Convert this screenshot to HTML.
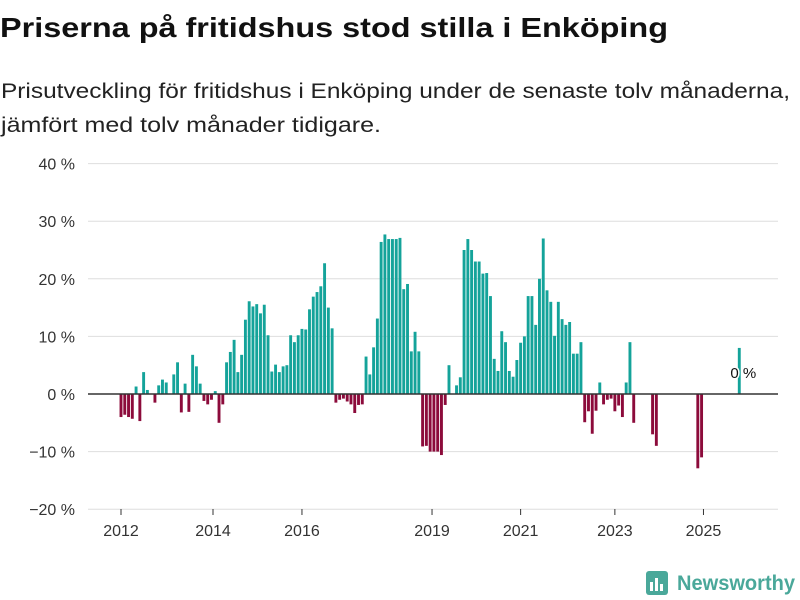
<!DOCTYPE html>
<html><head><meta charset="utf-8"><style>
html,body{margin:0;padding:0;background:#fff;}
svg{display:block;font-family:"Liberation Sans","DejaVu Sans",sans-serif;}
</style></head><body>
<svg id="chart" width="800" height="600" viewBox="0 0 800 600">
<text x="0" y="37" font-size="28" font-weight="bold" fill="#111" textLength="668" lengthAdjust="spacingAndGlyphs">Priserna på fritidshus stod stilla i Enköping</text>
<text x="1" y="98" font-size="21" fill="#222" textLength="789" lengthAdjust="spacingAndGlyphs">Prisutveckling för fritidshus i Enköping under de senaste tolv månaderna,</text>
<text x="1" y="132" font-size="21" fill="#222" textLength="380" lengthAdjust="spacingAndGlyphs">jämfört med tolv månader tidigare.</text>
<g id="grid"></g><g id="bars"></g><g id="axes"></g>
<g>
<rect x="646" y="571" width="22" height="24" rx="3" fill="#4aa89a"/>
<rect x="650" y="582" width="3" height="9" fill="#fff"/><rect x="655" y="578" width="3" height="13" fill="#fff"/><rect x="660" y="584" width="3" height="7" fill="#fff"/>
<text x="677" y="590" font-size="21" font-weight="bold" fill="#4aa89a" textLength="118" lengthAdjust="spacingAndGlyphs">Newsworthy</text>
</g>
</svg>
<script>
const values = [-4.0,-3.6,-4.0,-4.3,1.3,-4.7,3.8,0.7,null,-1.5,1.5,2.5,2.0,null,
3.4,5.5,-3.2,1.8,-3.1,6.8,4.8,1.8,-1.2,-1.8,-1.0,0.5,-5.0,-1.8,5.5,7.3,9.4,3.8,6.8,12.9,16.1,15.2,15.6,14.0,15.5,10.2,3.9,5.1,3.8,4.8,5.0,10.2,9.0,10.2,11.3,11.2,14.7,16.9,17.7,18.7,22.7,15.0,11.4,-1.5,
-1.0,-0.8,-1.3,-1.8,-3.3,-1.9,-1.8,
6.5,3.4,8.1,13.1,26.4,27.7,26.9,26.9,26.9,27.1,18.2,19.1,7.4,10.8,7.4,
-9.1,-9.0,-10.0,-10.0,-10.0,-10.6,-1.9,5.0,null,
1.5,2.9,25.0,26.9,25.0,23.0,23.0,20.9,21.0,17.0,6.1,4.0,10.9,9.0,4.0,3.0,5.9,8.9,10.0,17.0,17.0,12.0,20.0,27.0,18.0,16.0,10.1,16.0,13.0,12.0,
12.5,7.0,7.0,9.0,
-4.9,-3.0,-6.9,-2.9,2.0,-1.8,-1.0,-0.8,-3.0,-2.0,-4.0,2.0,9.0,-5.0,
null,null,null,null,-7.0,-9.0,
null,null,null,null,null,null,null,null,null,null,-12.9,-11.0,
null,null,null,null,null,null,null,null,null,8.0];
const yTicks = [-20,-10,0,10,20,30,40];
const xTickLabels = ["2012","2014","2016","2019","2021","2023","2025"];
const xTickMonths = [0,24.4,48,82.5,106,131,154.5];
const lastLabel = "0 %";

const NS="http://www.w3.org/2000/svg";
const X0=121, PITCH=3.77, BW=2.9;
function x(i){return X0+i*PITCH;}
function y(v){return 394 - v*5.76;}
function mk(tag,attrs,parent){const e=document.createElementNS(NS,tag);for(const k in attrs)e.setAttribute(k,attrs[k]);parent.appendChild(e);return e;}
const grid=document.getElementById('grid'), bars=document.getElementById('bars'), axes=document.getElementById('axes');
yTicks.forEach(t=>{
  if(t!==0){const l=mk('line',{x1:88,x2:778,y1:y(t),y2:y(t),stroke:'#dedede','stroke-width':1},grid);
  
  }
  const tx=mk('text',{x:75,y:y(t)+6,'text-anchor':'end','font-size':16,fill:'#333'},axes);
  tx.textContent=(t<0?'\u2212'+Math.abs(t):t)+' %';
  
  
});
values.forEach((v,i)=>{
  if(v===null)return;
  const top=Math.min(y(v),y(0)), h=Math.abs(y(v)-y(0));
  const r=mk('rect',{x:x(i)-BW/2,y:top,width:BW,height:Math.max(h,0.5),fill:v>=0?'#14a39a':'#8c0b3b'},bars);
  
  
});
const zl=mk('line',{x1:88,x2:778,y1:y(0),y2:y(0),stroke:'#333','stroke-width':1.5},axes);


xTickLabels.forEach((lab,k)=>{
  const px=x(xTickMonths[k]);
  const tl=mk('line',{x1:px,x2:px,y1:509,y2:515,stroke:'#333','stroke-width':1},axes);
  
  
  const t=mk('text',{x:px,y:536,'text-anchor':'middle','font-size':16,fill:'#333'},axes);
  t.textContent=lab;
  
  
});
let li=values.length-1;
const lt=mk('text',{x:x(li)+4,y:378,'text-anchor':'middle','font-size':15,fill:'#111',stroke:'#fff','stroke-width':3,'paint-order':'stroke'},axes);
lt.textContent=lastLabel;


</script>
</body></html>
